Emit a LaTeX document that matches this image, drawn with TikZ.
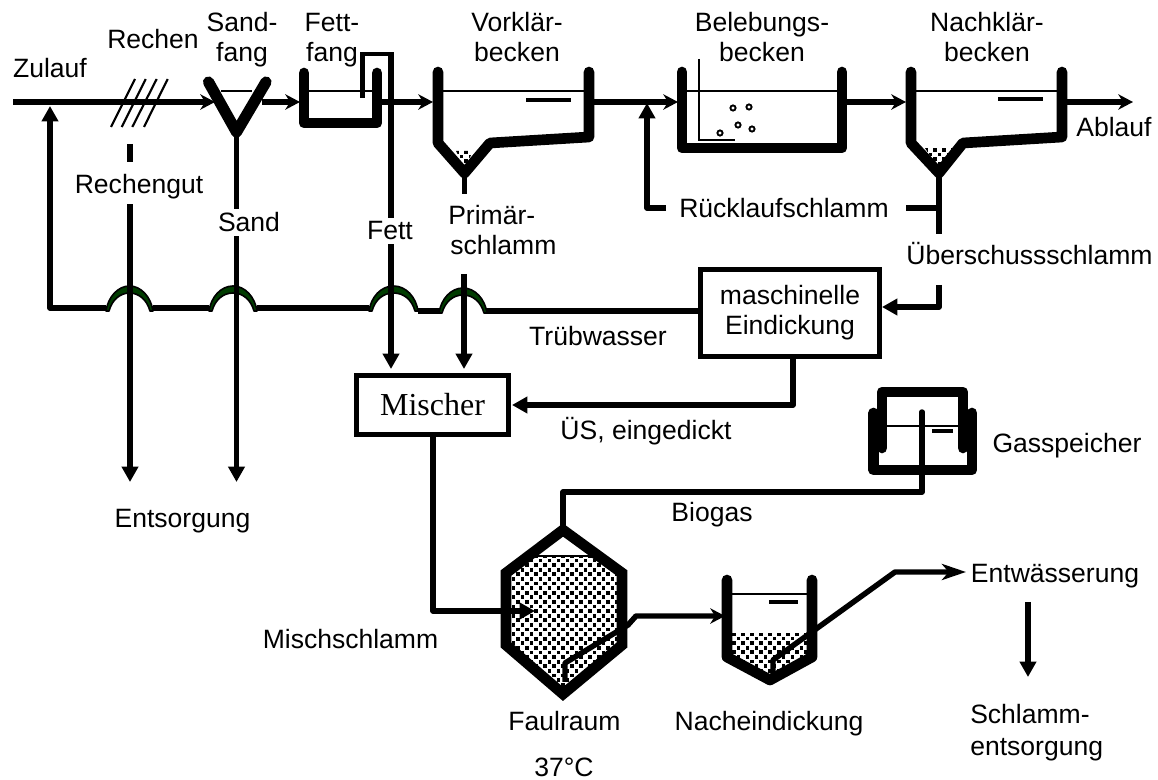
\documentclass[tikz,border=0pt]{standalone}
\usepackage{fontspec}
\setmainfont{Liberation Sans}
\newfontfamily\serifface{Liberation Serif}
\usetikzlibrary{arrows.meta}
\definecolor{bridgegreen}{RGB}{0,60,0}
\tikzset{
  x=0.75pt,y=-0.75pt,
  wall/.style={line width=8pt,line cap=round,line join=round},
  pipe/.style={line width=4.1pt,line join=round},
  thinline/.style={line width=1.7pt},
  flow/.style={pipe,-{Stealth[length=11pt,width=11.5pt,inset=3.5pt]}},
  longflow/.style={pipe,-{Stealth[length=18pt,width=12pt,inset=5pt]}},
  bigflow/.style={pipe,-{Triangle[length=11.5pt,width=12pt]}},
  lab/.style={inner sep=0pt,anchor=base,font=\fontsize{19.9}{23.2}\selectfont},
  whitelab/.style={lab,fill=white,inner xsep=1pt,inner ysep=3pt},
  boxnode/.style={draw,line width=3.9pt,inner sep=0pt,align=center,fill=white},
  bridge/.style={draw=black,fill=bridgegreen,line width=1.2pt,line join=round},
  grain/.style={fill=black},
}
\newcommand{\stipple}[4]{%
  \foreach \ry in {0,...,#4}{%
    \pgfmathsetmacro{\off}{mod(\ry,2)*4.5}%
    \foreach \rx in {0,...,#3}{%
      \fill[grain] ({#1+\rx*9+\off-1.9},{#2+\ry*4.6-1.9}) rectangle +(3.8,3.8);
    }%
  }%
}
\newcommand{\bridgeat}[4]{% left x, right x, base y, top y
  \path[bridge] (#1,#3) .. controls (#1+2,#3-14) and (#1+12,#4) .. ({(#1+#2)/2},#4)
    .. controls (#2-12,#4) and (#2-2,#3-14) .. (#2,#3)
    -- (#2-3,#3) .. controls (#2-6,#3-11) and (#2-14,#4+7) .. ({(#1+#2)/2},#4+7)
    .. controls (#1+14,#4+7) and (#1+6,#3-11) .. (#1+3,#3) -- cycle;
}
\begin{document}
\begin{tikzpicture}
\useasboundingbox (0,0) rectangle (1158,780);
\fill[white] (0,0) rectangle (1158,780);

% free ends and fixed points
\coordinate (in) at (13,102);
\coordinate (sandIn) at (215,102);
\coordinate (fatIn) at (300,102);
\coordinate (vkIn) at (433,102);
\coordinate (vkOut) at (594,102);
\coordinate (bbIn) at (678,102);
\coordinate (bbOut) at (847,102);
\coordinate (nkIn) at (906,102);
\coordinate (nkOut) at (1067,102);
\coordinate (outEnd) at (1133,102);

% main line
\draw[flow] (in) -- (sandIn);
\draw[flow] (262,102) -- (fatIn);
\draw[flow] (382,102) -- (vkIn);
\draw[flow] (vkOut) -- (bbIn);
\draw[flow] (bbOut) -- (nkIn);
\draw[flow] (nkOut) -- (outEnd);

% Rechen
\foreach \a/\b in {111/135,121.7/145.7,132.3/156.7,144/167.7}
  \draw[line width=1.6pt] (\a,127) -- (\b,79);

% Sandfang
\draw[thinline] (221,91) -- (252,91);
\draw[wall,line width=8.4pt] (208.5,82) -- (236.5,132) -- (266,82);

% Fettfang
\draw[thinline] (309,91) -- (372,91);
\draw[wall] (304,73) -- (304,123) -- (377,123) -- (377,73);
\draw[line width=3.5pt] (362.5,98) -- (362.5,54) -- (394,54);

% Vorklaerbecken
\draw[thinline] (443,91) -- (584,91);
\draw[line width=2.4pt] (526,100) -- (571,100);
\begin{scope}
\clip (456,151) -- (473,151) -- (464.5,168) -- cycle;
\stipple{457}{152}{2}{4}
\end{scope}
\draw[wall] (438,72) -- (438,143) -- (464.5,173) -- (490,143) -- (589,137) -- (589,72);

% Belebungsbecken
\draw[thinline] (687,91) -- (837,91);
\draw[line width=1.8pt] (699,59) -- (699,140) -- (735,140);
\foreach \p/\q in {733/108,749/107,738/125,752/129,720/133}
  \draw[line width=1.4pt] (\p,\q) circle[radius=2.6];
\draw[wall] (682,72) -- (682,148) -- (842,148) -- (842,72);

% Nachklaerbecken
\draw[thinline] (916,91) -- (1057,91);
\draw[line width=2.4pt] (998,99) -- (1043,99);
\begin{scope}
\clip (925,148) -- (955,148) -- (939,170) -- cycle;
\stipple{926}{150}{3}{4}
\end{scope}
\draw[wall] (911,72) -- (911,143) -- (939,173) -- (963,143) -- (1062,137) -- (1062,72);

% outlets
\coordinate (vkDrain) at (464.5,173);
\coordinate (vkDrainEnd) at (464.5,194);
\draw[pipe] (vkDrain) -- (vkDrainEnd);
\coordinate (nkDrain) at (939,173);
\coordinate (usEnd) at (939,234);
\draw[pipe] (nkDrain) -- (usEnd);
\coordinate (rsA) at (939,208);
\coordinate (rsB) at (906,208);
\draw[pipe] (rsA) -- (rsB);
\coordinate (rsC) at (666,208);
\coordinate (rsD) at (647,208);
\coordinate (rsE) at (647,103);
\draw[bigflow] (rsC) -- (rsD) -- (rsE);

% Sand, Rechengut, Fett, Primaerschlamm lines
\coordinate (rgA) at (130,144);
\coordinate (rgB) at (130,162);
\draw[pipe] (rgA) -- (rgB);
\coordinate (rgC) at (130,196);
\coordinate (rgEnd) at (130,482);
\coordinate (saA) at (236.5,133);
\coordinate (saEnd) at (236.5,482);
\coordinate (fatA) at (391,54);
\coordinate (fatEnd) at (391,369);
\coordinate (prA) at (464,274);
\coordinate (prEnd) at (464,369);

% Boxes
\node[boxnode,minimum width=134.25pt,minimum height=65.25pt,font=\fontsize{19.9}{22.5}\selectfont] (mach) at (790,313) {maschinelle\\Eindickung};
\node[boxnode,minimum width=114pt,minimum height=44pt] (mix) at (432.5,405) {\raisebox{-1.5pt}{\fontsize{24}{28}\serifface Mischer}};

% Return line and bridges
\coordinate (retA) at (50,308);
\coordinate (retEnd) at (50,106);
\coordinate (br4R) at (487,311);
\draw[pipe] (mach.west |- br4R) -- (br4R);
\draw[pipe] (439,311) -- (418,311);
\draw[pipe] (369,308) -- (257,308);
\draw[pipe] (209,308) -- (153,308);
\draw[bigflow] (106,308) -- (retA) -- (retEnd);
\bridgeat{106}{153}{311}{286}
\bridgeat{209}{257}{311}{286}
\bridgeat{369}{418}{311}{286}
\bridgeat{439}{487}{313}{288}

% vertical discharge lines
\draw[bigflow] (rgC) -- (rgEnd);
\draw[bigflow] (saA) -- (saEnd);
\draw[bigflow] (fatA) -- (fatEnd);
\draw[bigflow] (prA) -- (prEnd);

% Ueberschuss to box, box to mixer
\coordinate (usA) at (939,285);
\coordinate (usB) at (939,307);
\draw[bigflow] (usA) -- (usB) -- (882,307);
\coordinate (ebA) at (793,405);
\draw[bigflow] (mach.south -| ebA) -- (ebA) -- (512,405);

% Faulraum
\begin{scope}
\clip (563,530) -- (622,573) -- (622,645) -- (563,694) -- (506,645) -- (506,573) -- cycle;
\clip (500,556) rectangle (630,700);
\stipple{500}{556}{14}{31}
\end{scope}
\draw[thinline] (535,556) -- (595,556);
\draw[wall,line cap=butt,line join=miter] (563,530) -- (622,573) -- (622,645) -- (563,694) -- (506,645) -- (506,573) -- cycle;
\coordinate (faA) at (563,526);
\coordinate (faB) at (563,492);
\coordinate (gasA) at (922,492);
\coordinate (gasB) at (922,412);
\coordinate (msA) at (433,436);
\coordinate (msB) at (433,611);
\coordinate (msC) at (535,611);
\draw[bigflow] (msA |- mix.south) -- (msB) -- (msC);
\coordinate (faP1) at (565,682);
\coordinate (faP2) at (565,663);
\coordinate (faP3) at (628,625);
\coordinate (faP4) at (636,616);
\coordinate (neIn) at (725,616);
\draw[flow] (faP1) -- (faP2) -- (faP3) -- (faP4) -- (neIn);

% Nacheindickung
\begin{scope}
\clip (727,575) -- (727,657) -- (770,680) -- (812,657) -- (812,575) -- cycle;
\clip (720,634) rectangle (820,690);
\stipple{725}{634}{10}{11}
\end{scope}
\draw[thinline] (732,594) -- (807,594);
\draw[line width=2.4pt] (769,602) -- (798,602);
\draw[wall] (727,580) -- (727,657) -- (770,680) -- (812,657) -- (812,580);
\coordinate (neP1) at (773,674);
\coordinate (neP2) at (773,660);
\coordinate (neP3) at (895,572);
\coordinate (entIn) at (966,572);
\draw[longflow] (neP1) -- (neP2) -- (neP3) -- (entIn);

% Entwaesserung arrow
\coordinate (enA) at (1028,602);
\coordinate (enB) at (1028,677);
\draw[bigflow] (enA) -- (enB);

% Gasspeicher
\draw[wall] (873.5,413) -- (873.5,470) -- (972,470) -- (972,413);
\draw[wall] (882,448) -- (882,392) -- (963,392) -- (963,448);
\draw[thinline] (887,426) -- (958,426);
\draw[line width=2.4pt] (932,431) -- (953,431);
\draw[pipe,line cap=round] (faA) -- (faB) -- (gasA) -- (gasB);

% Labels
\node[lab] (t1) at (50,78) {Zulauf};
\node[lab] (t2) at (153,49) {Rechen};
\node[lab] (t3a) at (242,32) {Sand-};
\node[lab] (t3b) at (242,62) {fang};
\node[lab] (t4a) at (332,32) {Fett-};
\node[lab] (t4b) at (332,62) {fang};
\node[lab] (t5a) at (517,32) {Vorklär-};
\node[lab] (t5b) at (517,62) {becken};
\node[lab] (t6a) at (762,32) {Belebungs-};
\node[lab] (t6b) at (762,62) {becken};
\node[lab] (t7a) at (987,32) {Nachklär-};
\node[lab] (t7b) at (987,62) {becken};
\node[lab] (t8) at (1114,137) {Ablauf};
\node[whitelab] (t9) at (139,194) {Rechengut};
\node[whitelab] (t10) at (249,232) {Sand};
\node[whitelab] (t11) at (390,240) {Fett};
\node[lab,anchor=base west] (t12a) at (448,225) {Primär-};
\node[lab,anchor=base west] (t12b) at (450,255) {schlamm};
\node[lab] (t13) at (784,218) {Rücklaufschlamm};
\node[lab] (t14) at (1029.5,265) {Überschussschlamm};
\node[lab] (t15) at (598,346) {Trübwasser};
\node[lab] (t16) at (646,440) {ÜS, eingedickt};
\node[lab] (t17) at (1067,453) {Gasspeicher};
\node[lab] (t18) at (712,522) {Biogas};
\node[lab] (t19) at (350.5,648) {Mischschlamm};
\node[lab] (t20) at (182.5,528) {Entsorgung};
\node[lab] (t21) at (564.5,730) {Faulraum};
\node[lab] (t22) at (769,730) {Nacheindickung};
\node[lab] (t23) at (564,776) {37°C};
\node[lab] (t24) at (1055,583) {Entwässerung};
\node[lab,anchor=base west] (t25a) at (970,724) {Schlamm-};
\node[lab,anchor=base west] (t25b) at (970,755) {entsorgung};
\end{tikzpicture}
\end{document}
